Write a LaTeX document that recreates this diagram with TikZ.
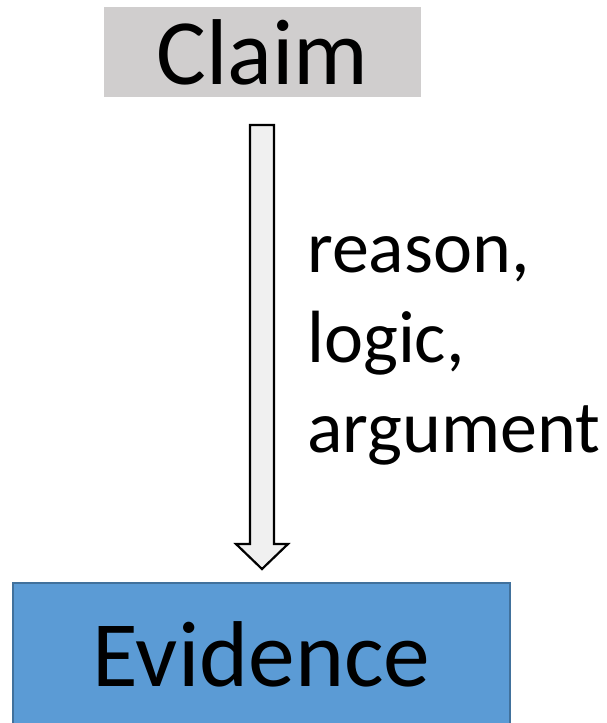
\documentclass[tikz,border=0pt]{standalone}
\usepackage{fontspec}
\setmainfont{Carlito}
\usepackage{xcolor}
\usepackage{tikz}
\usetikzlibrary{positioning,calc}

\definecolor{claimgray}{HTML}{D0CECE}
\definecolor{evidenceblue}{HTML}{5B9BD5}
\definecolor{evidenceline}{HTML}{41719C}
\definecolor{arrowfill}{HTML}{F0F0F0}

\begin{document}
\begin{tikzpicture}[x=1pt, y=-1pt,
  every box/.style={inner sep=0pt, outer sep=0pt,
    font=\fontsize{93.5}{110}\selectfont},
  claim box/.style={fill=claimgray, minimum width=317pt, minimum height=90pt},
  evidence box/.style={fill=evidenceblue, draw=evidenceline, line width=2pt,
    minimum width=497pt, minimum height=142pt},
  block arrow/.style={draw=black, fill=arrowfill, line width=2.2pt, line join=miter},
  arrow label/.style={align=left, inner sep=0pt,
    font=\fontsize{74}{90}\selectfont}]

\useasboundingbox (0,0) rectangle (607,723);

\node [every box/.try, claim box] (claim) at (262.5,52) {Claim};
\node [every box/.try, evidence box] (evidence) at (261.5,654) {Evidence};

% block arrow from claim down to evidence
\coordinate (arrow-top) at ($(claim.south)+(-0.5,28)$);
\coordinate (arrow-tip) at ($(evidence.north)+(0.5,-14)$);
\draw [block arrow] ($(arrow-top)+(-12,0)$) -- ++(24,0)
  -- ($(arrow-tip)+(12,-25)$) -- ++(14,0) -- (arrow-tip)
  -- ++(-26,-25) -- ++(14,0) -- cycle;

% base of a multi-line node sits on its last line
\node [arrow label, anchor=base west] (why) at (307,452)
  {reason,\\logic,\\argument};

\end{tikzpicture}
\end{document}
